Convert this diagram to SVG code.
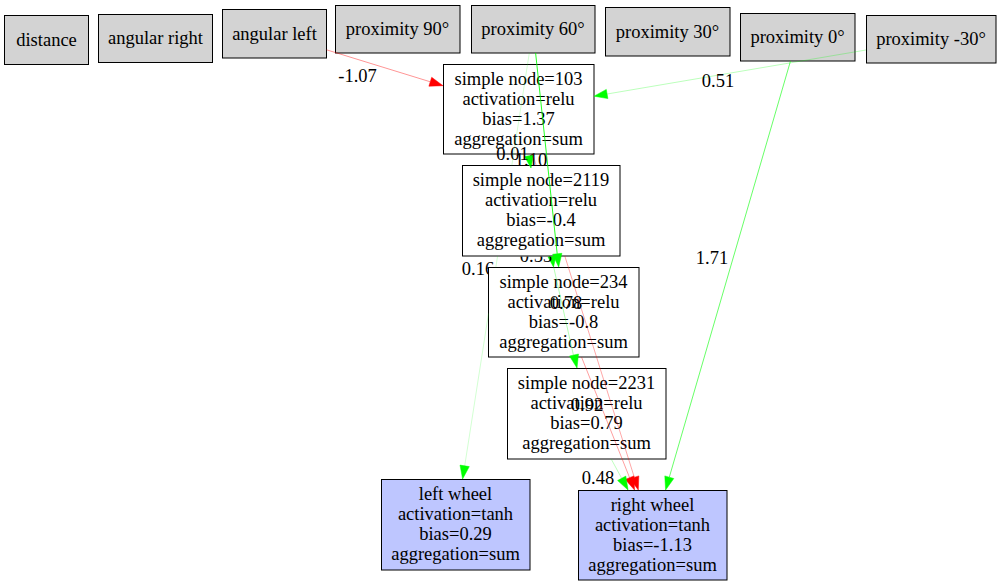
<svg xmlns="http://www.w3.org/2000/svg" width="1001" height="587" viewBox="0 0 1001 587">
  <style>
    .box { stroke: #000; stroke-width: 1; }
    .in { fill: #d3d3d3; }
    .hid { fill: #fff; }
    .out { fill: #bec6ff; }
    text { font-family: "Liberation Serif", "Times New Roman", serif; font-size: 18.5px; fill: #000; text-anchor: middle; }
    .pos { stroke: #00ff00; fill: none; }
    .neg { stroke: #ff0000; fill: none; }
    .pa { fill: #00ff00; stroke: #00ff00; stroke-width: 0.5; }
    .na { fill: #ff0000; stroke: #ff0000; stroke-width: 0.5; }
  </style>
  <defs>
    <!-- parts of edge labels that sit under a later-drawn node box -->
    <clipPath id="below-2119"><rect x="0" y="256.5" width="1001" height="331"/></clipPath>
    <clipPath id="left-of-234"><path d="M0 0H1001V267.5H488.5V587H0Z"/></clipPath>
  </defs>
  <rect width="1001" height="587" fill="#fff"/>

  <!-- input nodes -->
  <g id="distance"><rect class="box in" x="4.5" y="15.5" width="84" height="49"/><text x="46.5" y="45.5">distance</text></g>
  <g id="angular-right"><rect class="box in" x="98.5" y="14.5" width="114" height="48"/><text x="155.5" y="44">angular right</text></g>
  <g id="angular-left"><rect class="box in" x="222.5" y="9.5" width="104" height="48.5"/><text x="274.5" y="39.5">angular left</text></g>
  <g id="proximity-90"><rect class="box in" x="335.5" y="5.5" width="124.5" height="47.5"/><text x="397.5" y="35">proximity 90°</text></g>
  <g id="proximity-60"><rect class="box in" x="471.5" y="5.5" width="123.5" height="47.5"/><text x="533" y="35">proximity 60°</text></g>
  <g id="proximity-30"><rect class="box in" x="605.5" y="7.5" width="124.5" height="48.5"/><text x="667.5" y="37.5">proximity 30°</text></g>
  <g id="proximity-0"><rect class="box in" x="740.5" y="13.5" width="114.5" height="47.5"/><text x="797.5" y="43">proximity 0°</text></g>
  <g id="proximity-m30"><rect class="box in" x="866.5" y="15.5" width="129.5" height="47.5"/><text x="931" y="45">proximity -30°</text></g>

  <!-- hidden nodes -->
  <g id="node-103"><rect class="box hid" x="443.5" y="64.5" width="150.5" height="89.5"/>
    <text x="518.5" y="84.5">simple node=103</text><text x="518.5" y="104.5">activation=relu</text><text x="518.5" y="124.5">bias=1.37</text><text x="518.5" y="144.5">aggregation=sum</text></g>
  <g id="node-2119"><rect class="box hid" x="462.5" y="165.5" width="157.5" height="90.5"/>
    <text x="541" y="186">simple node=2119</text><text x="541" y="206">activation=relu</text><text x="541" y="226">bias=-0.4</text><text x="541" y="246">aggregation=sum</text></g>
  <g id="node-234"><rect class="box hid" x="488.5" y="267.5" width="150.5" height="89.5"/>
    <text x="563.5" y="287.5">simple node=234</text><text x="563.5" y="307.5">activation=relu</text><text x="563.5" y="327.5">bias=-0.8</text><text x="563.5" y="347.5">aggregation=sum</text></g>
  <g id="node-2231"><rect class="box hid" x="507.5" y="368.5" width="158.5" height="90.5"/>
    <text x="586.5" y="389">simple node=2231</text><text x="586.5" y="409">activation=relu</text><text x="586.5" y="429">bias=0.79</text><text x="586.5" y="449">aggregation=sum</text></g>

  <!-- output nodes -->
  <g id="left-wheel"><rect class="box out" x="381.5" y="479.5" width="148.5" height="90.5"/>
    <text x="455.5" y="500">left wheel</text><text x="455.5" y="520">activation=tanh</text><text x="455.5" y="540">bias=0.29</text><text x="455.5" y="560">aggregation=sum</text></g>
  <g id="right-wheel"><rect class="box out" x="578.5" y="490.5" width="148.5" height="89.5"/>
    <text x="652.5" y="510.5">right wheel</text><text x="652.5" y="530.5">activation=tanh</text><text x="652.5" y="550.5">bias=-1.13</text><text x="652.5" y="570.5">aggregation=sum</text></g>

  <!-- weighted connections: green = positive, red = negative, width grows with |weight| -->
  <g id="connectors">
    <line class="neg" stroke-width="0.42" x1="326.5" y1="49.8" x2="430.3" y2="81.8"/>
    <polygon class="na" points="443,85.7 428.9,86.2 431.7,77.3"/>
    <text x="357.5" y="82">-1.07</text>

    <line class="pos" stroke-width="0.27" x1="866" y1="50" x2="607.1" y2="94"/>
    <polygon class="pa" points="594,96.2 606.3,89.4 607.9,98.6"/>
    <text x="718" y="87">0.51</text>

    <line class="pos" stroke-width="0.6" x1="790.5" y1="61" x2="669.3" y2="477.2"/>
    <polygon class="pa" points="665.6,490 673.8,478.5 664.8,475.9"/>
    <text x="712" y="264">1.71</text>

    <!-- passes behind node 2119 and node 234 -->
    <path class="pos" stroke-width="0.18" d="M529.3 53L511.8 165.5M497.6 256L495.8 267.5M488.5 313.5L464.7 465.9"/>
    <polygon class="pa" points="462.6,479 469.3,466.6 460,465.1"/>
    <text x="478" y="275" clip-path="url(#left-of-234)">0.16</text>

    <polygon class="pa" points="531,168 533.3,155 524.5,156.5"/>
    <text x="512.5" y="160">0.01</text>

    <line class="pos" stroke-width="0.85" x1="535.6" y1="53" x2="557.2" y2="253.8"/>
    <polygon class="pa" points="558.7,267 561.9,253.3 552.6,254.3"/>
    <text x="531" y="165.5">1.10</text>

    <polygon class="pa" points="553.5,267 556,256 548,257"/>
    <text x="536" y="262" clip-path="url(#below-2119)">0.53</text>

    <line class="pos" stroke-width="0.3" x1="551.2" y1="256" x2="573.4" y2="355"/>
    <polygon class="pa" points="577,368 578.5,354 569.5,356"/>

    <!-- passes behind node 2119 -->
    <path class="neg" stroke-width="0.35" d="M532.7 154L536.2 165.5M564.8 256L634.3 477.3"/>
    <polygon class="na" points="638.3,490 638.8,475.9 629.9,478.7"/>
    <text x="566" y="309">0.78</text>

    <line class="neg" stroke-width="0.38" x1="581.5" y1="357" x2="629.6" y2="477.7"/>
    <polygon class="na" points="634.5,490 633.9,475.9 625.2,479.4"/>
    <text x="587" y="411">0.92</text>

    <line class="pos" stroke-width="0.26" x1="611.2" y1="459" x2="621.7" y2="478.3"/>
    <polygon class="pa" points="628.1,490 625.8,476.1 617.6,480.5"/>
    <text x="598" y="484">0.48</text>
  </g>
</svg>
